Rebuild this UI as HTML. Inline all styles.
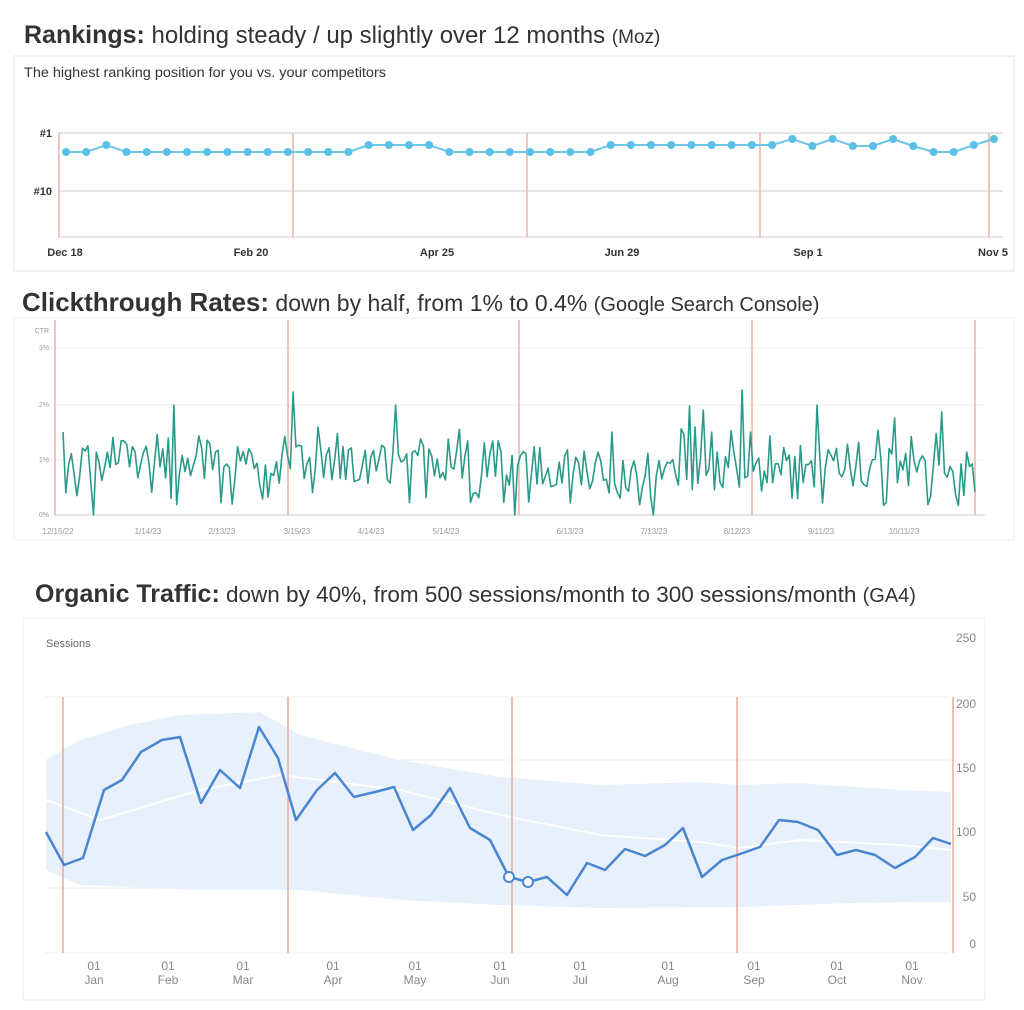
<!DOCTYPE html>
<html><head><meta charset="utf-8"><style>
html,body{margin:0;padding:0;background:#fff;width:1024px;height:1010px;overflow:hidden}
svg{display:block}
</style></head><body>
<svg id="s" width="1024" height="1010" xmlns="http://www.w3.org/2000/svg" font-family="Liberation Sans, sans-serif">
<text x="24" y="43" font-size="24" fill="#333"><tspan font-weight="bold" font-size="25">Rankings:</tspan> holding steady / up slightly over 12 months <tspan font-size="19">(Moz)</tspan></text>
<text x="22" y="311" font-size="23" fill="#333"><tspan font-weight="bold" font-size="26">Clickthrough Rates:</tspan> down by half, from 1% to 0.4% <tspan font-size="20">(Google Search Console)</tspan></text>
<text x="35" y="602" font-size="22.5" fill="#333"><tspan font-weight="bold" font-size="25">Organic Traffic:</tspan> down by 40%, from 500 sessions/month to 300 sessions/month <tspan font-size="20">(GA4)</tspan></text>

<rect x="14" y="56" width="1000" height="215" fill="#fff" stroke="#e4e4e4"/>
<text x="24" y="77" font-size="13.5" fill="#333" textLength="362" lengthAdjust="spacingAndGlyphs">The highest ranking position for you vs. your competitors</text>
<line x1="58" y1="133" x2="1003" y2="133" stroke="#ccc"/>
<line x1="58" y1="191" x2="1003" y2="191" stroke="#ccc"/>
<line x1="58" y1="237" x2="1003" y2="237" stroke="#ccc"/>
<text x="52" y="137" font-size="11" fill="#333" text-anchor="end" font-weight="bold">#1</text>
<text x="52" y="195" font-size="11" fill="#333" text-anchor="end" font-weight="bold">#10</text>
<g stroke="#e8b4a8" stroke-width="1.5">
<line x1="59" y1="133" x2="59" y2="237"/><line x1="293" y1="133" x2="293" y2="237"/><line x1="527" y1="133" x2="527" y2="237"/><line x1="760" y1="133" x2="760" y2="237"/><line x1="989" y1="133" x2="989" y2="237"/>
</g>
<g font-size="11" fill="#333" text-anchor="middle" font-weight="bold">
<text x="65" y="256">Dec 18</text><text x="251" y="256">Feb 20</text><text x="437" y="256">Apr 25</text><text x="622" y="256">Jun 29</text><text x="808" y="256">Sep 1</text><text x="993" y="256">Nov 5</text>
</g>
<g id="rk"></g>

<rect x="14" y="318" width="1000" height="222" fill="#fff" stroke="#eee"/>
<g stroke="#eee"><line x1="55" y1="348" x2="985" y2="348"/><line x1="55" y1="405" x2="985" y2="405"/><line x1="55" y1="460" x2="985" y2="460"/></g>
<line x1="55" y1="515" x2="985" y2="515" stroke="#ccc"/>
<g font-size="7" fill="#999" text-anchor="end">
<text x="49" y="333">CTR</text><text x="49" y="350">3%</text><text x="49" y="407">2%</text><text x="49" y="462">1%</text><text x="49" y="517">0%</text>
</g>
<g stroke="#e8b4a8" stroke-width="1.5">
<line x1="55" y1="320" x2="55" y2="515"/><line x1="288" y1="320" x2="288" y2="515"/><line x1="519" y1="320" x2="519" y2="515"/><line x1="752" y1="320" x2="752" y2="515"/><line x1="975" y1="320" x2="975" y2="515"/>
</g>
<g font-size="8" fill="#999" text-anchor="middle">
<text x="58" y="534">12/15/22</text><text x="148" y="534">1/14/23</text><text x="222" y="534">2/13/23</text><text x="297" y="534">3/15/23</text><text x="371" y="534">4/14/23</text><text x="446" y="534">5/14/23</text><text x="570" y="534">6/13/23</text><text x="654" y="534">7/13/23</text><text x="737" y="534">8/12/23</text><text x="821" y="534">9/11/23</text><text x="904" y="534">10/11/23</text>
</g>
<path id="ctr" fill="none" stroke="#2a9a88" stroke-width="1.6" stroke-linejoin="round"/>

<rect x="23" y="618" width="962" height="382" fill="#fff" stroke="#eee"/>
<text x="46" y="647" font-size="11" fill="#666">Sessions</text>
<g stroke="#eee"><line x1="45" y1="697" x2="950" y2="697"/><line x1="45" y1="760" x2="950" y2="760"/><line x1="45" y1="824" x2="950" y2="824"/><line x1="45" y1="888" x2="950" y2="888"/><line x1="45" y1="953" x2="950" y2="953"/></g>
<path d="M46,760 L80,740 L130,725 L180,715 L260,712 L300,735 L400,760 L500,777 L600,785 L700,782 L740,785 L800,783 L900,790 L951,792 L951,902 L850,903 L740,907 L600,908 L500,905 L400,900 L300,890 L200,890 L80,885 L46,870 Z" fill="#e8f0fc"/>
<path d="M46,800 L100,820 L200,790 L280,775 L400,790 L500,815 L600,835 L700,842 L740,848 L800,840 L900,845 L951,850" fill="none" stroke="#fff" stroke-width="2"/>
<g stroke="#e8a898" stroke-width="1.5">
<line x1="63" y1="697" x2="63" y2="953"/><line x1="288" y1="697" x2="288" y2="953"/><line x1="512" y1="697" x2="512" y2="953"/><line x1="737" y1="697" x2="737" y2="953"/><line x1="953" y1="697" x2="953" y2="953"/>
</g>
<path d="M46,832 L64,865 L83,858 L104,790 L122,780 L141,752 L162,740 L180,737 L201,803 L220,770 L240,788 L259,727 L278,758 L296,820 L317,790 L335,773 L354,797 L375,792 L394,787 L413,830 L431,815 L450,788 L470,828 L490,840 L509,877 L528,882 L547,877 L567,895 L587,863 L605,870 L625,849 L645,856 L665,845 L683,828 L702,877 L722,860 L740,854 L760,847 L779,820 L798,822 L818,830 L837,855 L856,850 L875,855 L895,868 L915,857 L933,838 L951,844" fill="none" stroke="#4a86d0" stroke-width="2.5" stroke-linejoin="round"/>
<circle cx="509" cy="877" r="5" fill="#fff" stroke="#4a86d0" stroke-width="2"/>
<circle cx="528" cy="882" r="5" fill="#fff" stroke="#4a86d0" stroke-width="2"/>
<g font-size="12" fill="#888" text-anchor="end">
<text x="976" y="642">250</text><text x="976" y="708">200</text><text x="976" y="772">150</text><text x="976" y="836">100</text><text x="976" y="901">50</text><text x="976" y="948">0</text>
</g>
<g font-size="12" fill="#888" text-anchor="middle" id="mx"></g>
</svg>
<script>
var NS="http://www.w3.org/2000/svg";
var rk=document.getElementById("rk");
var ys=[152,152,145,152,152,152,152,152,152,152,152,152,152,152,152,145,145,145,145,152,152,152,152,152,152,152,152,145,145,145,145,145,145,145,145,145,139,146,139,146,146,139,146,152,152,145,139];
var pts=[];
for(var i=0;i<ys.length;i++){var x=66+i*(928/(ys.length-1));pts.push(x.toFixed(1)+","+ys[i]);}
var pl=document.createElementNS(NS,"polyline");pl.setAttribute("points",pts.join(" "));pl.setAttribute("fill","none");pl.setAttribute("stroke","#6cc6e8");pl.setAttribute("stroke-width","2");rk.appendChild(pl);
pts.forEach(function(p){var a=p.split(",");var c=document.createElementNS(NS,"circle");c.setAttribute("cx",a[0]);c.setAttribute("cy",a[1]);c.setAttribute("r","4");c.setAttribute("fill","#5cc0e6");rk.appendChild(c);});
var seed=12345;function r(){seed=(seed*16807)%2147483647;return seed/2147483647;}
var d="",n=330;
for(var i=0;i<n;i++){
 var x=63+i*(912/(n-1));
 var base=462-6*Math.sin(i*0.05)+(i>160?8:0);
 var v=base+(r()-0.5)*45;
 if(r()<0.10)v=492+r()*14;
 if(r()<0.05)v=425+r()*12;
 if(i==11||i==213||i==163)v=515;
 if(i==40)v=405;if(i==83)v=392;if(i==120)v=405;if(i==226)v=406;if(i==231)v=410;if(i==245)v=390;if(i==272)v=405;if(i==317)v=412;if(i==300)v=418;if(i==0)v=432;
 if(v<348)v=348;if(v>515)v=515;
 d+=(i?"L":"M")+x.toFixed(1)+","+v.toFixed(1);
}
document.getElementById("ctr").setAttribute("d",d);
var mx=document.getElementById("mx");
[["Jan",94],["Feb",168],["Mar",243],["Apr",333],["May",415],["Jun",500],["Jul",580],["Aug",668],["Sep",754],["Oct",837],["Nov",912]].forEach(function(m){
 var t=document.createElementNS(NS,"text");t.setAttribute("x",m[1]);t.setAttribute("y","970");t.textContent="01";mx.appendChild(t);
 var u=document.createElementNS(NS,"text");u.setAttribute("x",m[1]);u.setAttribute("y","984");u.textContent=m[0];mx.appendChild(u);
});
</script>
</body></html>
